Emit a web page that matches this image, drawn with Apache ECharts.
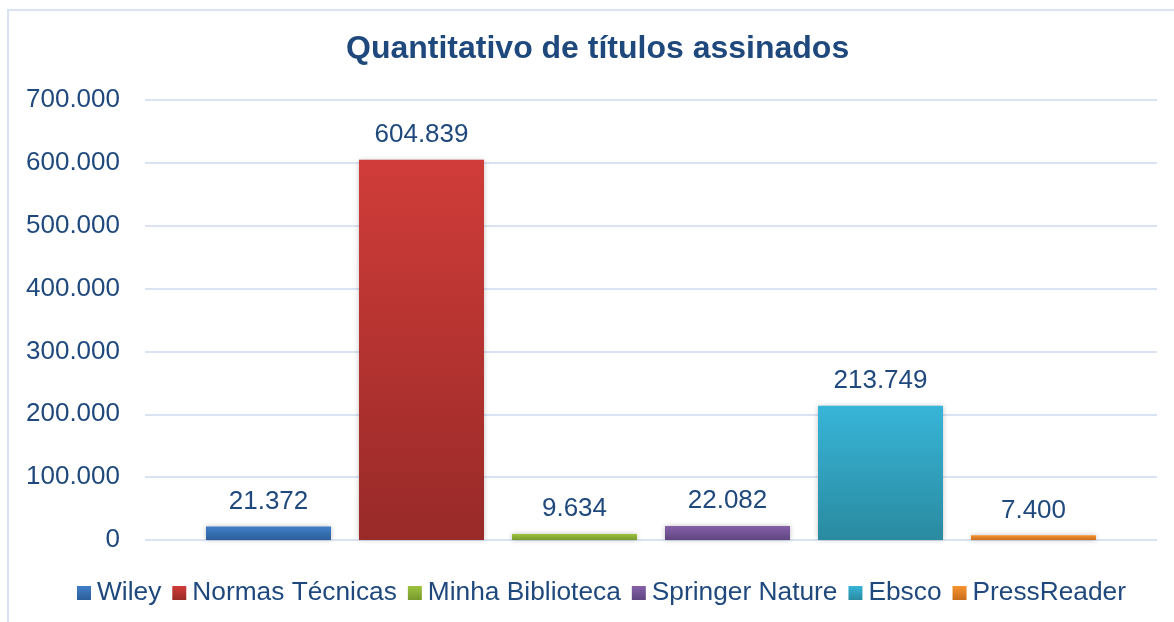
<!DOCTYPE html>
<html>
<head>
<meta charset="utf-8">
<script src="https://cdn.jsdelivr.net/npm/echarts@6/dist/echarts.min.js"></script>
<style>
html,body{margin:0;padding:0;background:#fff;}
#c{width:1174px;height:622px;}
</style>
</head>
<body>
<div id="c"></div>
<script>
const seriesNames = ['Wiley', 'Normas Técnicas', 'Minha Biblioteca', 'Springer Nature', 'Ebsco', 'PressReader'];
const seriesValues = [21372, 604839, 9634, 22082, 213749, 7400];
const colorsTop = ['#3F80C8', '#D03C39', '#9DC23E', '#8560A8', '#37B5D8', '#F7922E'];
const colorsBottom = ['#2C5E98', '#982A28', '#779A2E', '#5F4680', '#2A8AA0', '#C86E1E'];
const yTicks = [0, 100000, 200000, 300000, 400000, 500000, 600000, 700000];

const fmt = v => String(v).replace(/\B(?=(\d{3})+(?!\d))/g, '.');
const textColor = '#1F497D';
const font = '"Liberation Sans", Arial, sans-serif';

const chart = echarts.init(document.getElementById('c'));
const series = seriesNames.map((name, i) => ({
  name: name,
  type: 'bar',
  data: [seriesValues[i]],
  barWidth: 125,
  barGap: '22.4%',
  itemStyle: {
    color: new echarts.graphic.LinearGradient(0, 0, 0, 1, [
      {offset: 0, color: colorsTop[i]},
      {offset: 1, color: colorsBottom[i]}
    ]),
    shadowBlur: 5,
    shadowColor: 'rgba(0,0,0,0.25)'
  },
  label: {
    show: true,
    position: 'top',
    distance: 12,
    formatter: p => fmt(p.value),
    color: textColor,
    fontSize: 26,
    fontFamily: font
  }
}));

chart.setOption({
  animation: false,
  backgroundColor: '#fff',
  title: {
    text: 'Quantitativo de títulos assinados',
    left: 346,
    top: 33,
    padding: 0,
    textStyle: {color: textColor, fontSize: 32, fontWeight: 'bold', fontFamily: font}
  },
  graphic: [{
    type: 'rect',
    shape: {x: 8, y: 10, width: 1200, height: 700},
    style: {fill: 'none', stroke: '#DAE3F3', lineWidth: 2},
    silent: true
  }],
  legend: {
    bottom: 16,
    left: 77,
    padding: 0,
    itemWidth: 14,
    itemHeight: 14,
    itemGap: 11,
    icon: 'rect',
    textStyle: {color: textColor, fontSize: 26.3, fontFamily: font, padding: [0, 0, 0, 1]},
    data: seriesNames
  },
  grid: {left: 145, right: 17, top: 100, bottom: 82},
  xAxis: {
    type: 'category',
    data: [''],
    axisLine: {show: false},
    axisTick: {show: false},
    axisLabel: {show: false}
  },
  yAxis: {
    type: 'value',
    min: yTicks[0],
    max: yTicks[yTicks.length - 1],
    interval: yTicks[1] - yTicks[0],
    axisLine: {show: false},
    axisTick: {show: false},
    splitLine: {lineStyle: {color: '#D9E3F3', width: 2}},
    axisLabel: {
      color: textColor,
      fontSize: 26,
      fontFamily: font,
      margin: 25,
      formatter: v => fmt(v)
    }
  },
  series: series
});
</script>
</body>
</html>
